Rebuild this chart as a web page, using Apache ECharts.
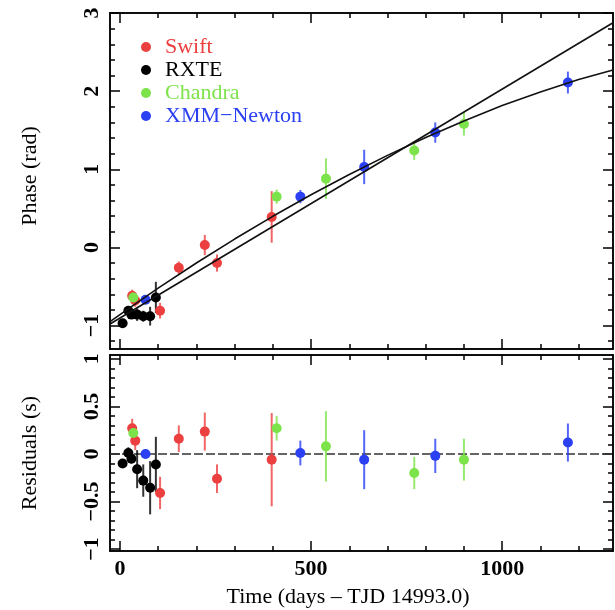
<!DOCTYPE html>
<html><head><meta charset="utf-8">
<script src="https://cdn.jsdelivr.net/npm/echarts@6/dist/echarts.min.js"></script>
<style>html,body{margin:0;padding:0;background:#fff}#c{width:615px;height:610px}</style>
</head><body><div id="c"></div>
<script>
// ---------- data ----------
const swiftDays      = [32, 40, 105, 154, 222, 254, 397];
const swiftPhase     = [-0.62, -0.68, -0.81, -0.26, 0.03, -0.20, 0.39];
const swiftPhaseErr  = [0.08, 0.08, 0.10, 0.08, 0.13, 0.11, 0.33];
const swiftRes       = [0.27, 0.14, -0.41, 0.16, 0.235, -0.26, -0.06];
const swiftResErr    = [0.10, 0.10, 0.17, 0.14, 0.20, 0.15, 0.49];

const rxteDays       = [7, 22, 30, 45, 61, 79, 94];
const rxtePhase      = [-0.97, -0.81, -0.86, -0.86, -0.88, -0.88, -0.64];
const rxtePhaseErr   = [0.04, 0.06, 0.05, 0.08, 0.07, 0.12, 0.20];
const rxteRes        = [-0.10, 0.01, -0.05, -0.16, -0.28, -0.355, -0.11];
const rxteResErr     = [0.04, 0.06, 0.05, 0.20, 0.17, 0.28, 0.29];

const chandraDays     = [35, 410, 539, 770, 900];
const chandraPhase    = [-0.64, 0.65, 0.88, 1.24, 1.58];
const chandraPhaseErr = [0.05, 0.09, 0.26, 0.12, 0.15];
const chandraRes      = [0.22, 0.27, 0.08, -0.20, -0.06];
const chandraResErr   = [0.10, 0.13, 0.37, 0.17, 0.22];

const xmmDays      = [67, 472, 639, 825, 1172];
const xmmPhase     = [-0.67, 0.65, 1.03, 1.47, 2.11];
const xmmPhaseErr  = [0.05, 0.085, 0.22, 0.13, 0.14];
const xmmRes       = [0.0, 0.01, -0.06, -0.02, 0.12];
const xmmResErr    = [0.05, 0.13, 0.31, 0.18, 0.20];

// fitted model curves
const linearFitDays  = [-26, 1290];
const linearFitPhase = [-0.98, 2.876];
const quadFitDays  = [-26, 0, 100, 200, 300, 400, 500, 600, 700, 800, 900, 1000, 1100, 1200, 1290];
const quadFitPhase = [-0.949, -0.859, -0.521, -0.199, 0.107, 0.398, 0.674, 0.933, 1.178, 1.406, 1.619, 1.815, 1.99, 2.15, 2.27];

const zeroDays = [-26, 1290];
const zeroRes  = [0, 0];

// axes / ticks
const X_MIN = -26, X_MAX = 1290;
const xMajor = [0, 500, 1000];
const xMinor = [100, 200, 300, 400, 600, 700, 800, 900, 1100, 1200];
const PH_MIN = -1.3, PH_MAX = 3;
const phaseMajor = [-1, 0, 1, 2, 3];
const phaseMinor = [-1.2, -0.8, -0.6, -0.4, -0.2, 0.2, 0.4, 0.6, 0.8, 1.2, 1.4, 1.6, 1.8, 2.2, 2.4, 2.6, 2.8];
const RES_MIN = -1.02, RES_MAX = 1.04;
const resMajor = [-1, -0.5, 0, 0.5, 1];
const resMinor = [-0.9, -0.8, -0.7, -0.6, -0.4, -0.3, -0.2, -0.1, 0.1, 0.2, 0.3, 0.4, 0.6, 0.7, 0.8, 0.9];

const RED = '#ec3f3f', BLACK = '#000000', GREEN = '#7de34a', BLUE = '#2b40f2';
const FONT = 'Liberation Serif';

const fmt = v => (v < 0 ? '\u2212' + Math.abs(v) : String(v));

function axisSet(kind, gridIndex, min, max, major, minor, labels, name, nameOpts) {
  const isX = kind === 'x';
  const pos = isX ? ['bottom', 'top'] : ['left', 'right'];
  const out = [];
  pos.forEach((p, pi) => {
    [true, false].forEach(isMajor => {
      const ax = {
        type: 'value', gridIndex, position: p, min, max,
        splitLine: { show: false },
        axisLine: { show: true, onZero: false, lineStyle: { color: '#000', width: 1.5 } },
        axisTick: { show: true, inside: true, length: isMajor ? 10 : 5,
          customValues: isMajor ? major : minor, lineStyle: { color: '#000', width: 1.5 } },
        axisLabel: { show: false }
      };
      if (pi === 0 && isMajor) {
        if (labels) {
          ax.axisLabel = { show: true, customValues: major, formatter: fmt,
            color: '#000', fontFamily: FONT, fontSize: 22, fontWeight: 'bold',
            margin: 7, rotate: isX ? 0 : 90 };
        }
        if (name) Object.assign(ax, { name }, nameOpts);
      }
      out.push(ax);
    });
  });
  return out;
}

const xAxes = [].concat(
  axisSet('x', 0, X_MIN, X_MAX, xMajor, xMinor, false),
  axisSet('x', 1, X_MIN, X_MAX, xMajor, xMinor, true, 'Time (days \u2013 TJD 14993.0)',
    { nameLocation: 'middle', nameGap: 35,
      nameTextStyle: { color: '#000', fontFamily: FONT, fontSize: 22, padding: [0, 27, 0, 0] } })
);
const yAxes = [].concat(
  axisSet('y', 0, PH_MIN, PH_MAX, phaseMajor, phaseMinor, true, 'Phase (rad)',
    { nameLocation: 'middle', nameGap: 69, nameRotate: 90,
      nameTextStyle: { color: '#000', fontFamily: FONT, fontSize: 22, padding: [0, 0, 0, 10] } }),
  axisSet('y', 1, RES_MIN, RES_MAX, resMajor, resMinor, true, 'Residuals (s)',
    { nameLocation: 'middle', nameGap: 69, nameRotate: 90,
      nameTextStyle: { color: '#000', fontFamily: FONT, fontSize: 22 } })
);

const zip = (a, b) => a.map((v, i) => [v, b[i]]);

function errSeries(name, days, vals, errs, color, ai) {
  return {
    type: 'custom', name: name + ' err', xAxisIndex: ai, yAxisIndex: ai,
    data: days.map((d, i) => [d, vals[i], errs[i]]),
    encode: { x: 0, y: 1 }, silent: true, z: 2, clip: true,
    renderItem: (params, api) => {
      const x = api.value(0), y = api.value(1), e = api.value(2);
      const p1 = api.coord([x, y - e]), p2 = api.coord([x, y + e]);
      return { type: 'line', shape: { x1: p1[0], y1: p1[1], x2: p2[0], y2: p2[1] },
        style: { stroke: color, lineWidth: 2, opacity: 0.8 } };
    }
  };
}
function ptSeries(name, days, vals, color, ai) {
  return { type: 'scatter', name, xAxisIndex: ai, yAxisIndex: ai, data: zip(days, vals),
    symbol: 'circle', symbolSize: 10, itemStyle: { color, opacity: 1 }, z: 3, silent: true };
}

const groups = [
  ['Swift', RED, swiftDays, swiftPhase, swiftPhaseErr, swiftRes, swiftResErr],
  ['RXTE', BLACK, rxteDays, rxtePhase, rxtePhaseErr, rxteRes, rxteResErr],
  ['Chandra', GREEN, chandraDays, chandraPhase, chandraPhaseErr, chandraRes, chandraResErr],
  ['XMM\u2212Newton', BLUE, xmmDays, xmmPhase, xmmPhaseErr, xmmRes, xmmResErr]
];

const series = [];
series.push({ type: 'line', name: 'zero', xAxisIndex: 4, yAxisIndex: 4, data: zip(zeroDays, zeroRes),
  symbol: 'none', silent: true, z: 1, lineStyle: { color: '#333', width: 1.5, type: [9, 3] } });
groups.forEach(g => {
  series.push(errSeries(g[0], g[2], g[3], g[4], g[1], 0));
  series.push(errSeries(g[0], g[2], g[5], g[6], g[1], 4));
});
groups.forEach(g => {
  series.push(ptSeries(g[0], g[2], g[3], g[1], 0));
  series.push(ptSeries(g[0], g[2], g[5], g[1], 4));
});
series.push({ type: 'line', name: 'linear', xAxisIndex: 0, yAxisIndex: 0, data: zip(linearFitDays, linearFitPhase),
  symbol: 'none', silent: true, z: 4, lineStyle: { color: '#111', width: 1.6 } });
series.push({ type: 'line', name: 'quadratic', xAxisIndex: 0, yAxisIndex: 0, data: zip(quadFitDays, quadFitPhase),
  symbol: 'none', silent: true, z: 4, lineStyle: { color: '#111', width: 1.6 } });

const chart = echarts.init(document.getElementById('c'), null, { renderer: 'canvas' });
chart.setOption({
  backgroundColor: '#fff',
  animation: false,
  grid: [
    { left: 110, width: 503, top: 13, height: 336 },
    { left: 110, width: 503, top: 355, height: 196 }
  ],
  legend: {
    show: true, orient: 'vertical', left: 136, top: 31, icon: 'circle',
    itemWidth: 28, itemHeight: 10, itemGap: 1, selectedMode: false,
    textStyle: { fontFamily: FONT, fontSize: 22 },
    data: groups.map(g => ({ name: g[0], itemStyle: { color: g[1] }, textStyle: { color: g[1] } }))
  },
  xAxis: xAxes,
  yAxis: yAxes,
  series
});
</script></body></html>
